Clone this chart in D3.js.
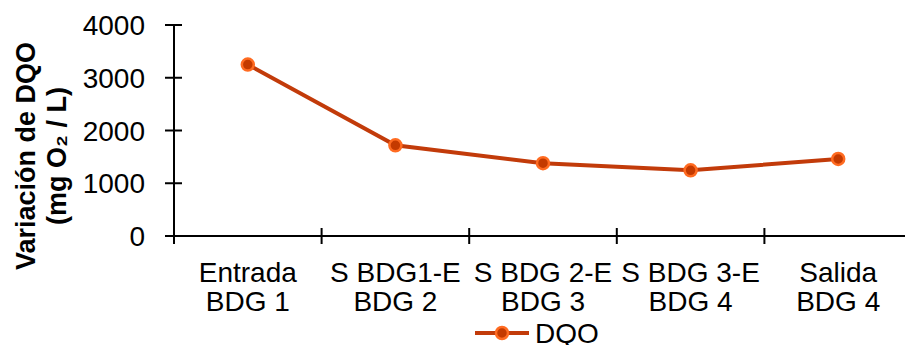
<!DOCTYPE html>
<html>
<head>
<meta charset="utf-8">
<script src="https://cdn.jsdelivr.net/npm/d3@7"></script>
<style>
  body { margin: 0; background: #fff; }
  text { font-family: "Liberation Sans", Arial, sans-serif; fill: #000; }
</style>
</head>
<body>
<div id="root"></div>
<script>
"use strict";

// data
var categories = [
    ["Entrada", "BDG 1"],
    ["S BDG1-E", "BDG 2"],
    ["S BDG 2-E", "BDG 3"],
    ["S BDG 3-E", "BDG 4"],
    ["Salida", "BDG 4"]
];
var dqo = [3250, 1720, 1380, 1245, 1460];
var yTicks = [0, 1000, 2000, 3000, 4000];
var seriesName = "DQO";

var width = 905, height = 345;
var lineColor = "#c23b0a", markerFill = "#c43a00", markerStroke = "#ff6b21";

var svg = d3.select("#root").append("svg")
    .attr("width", width)
    .attr("height", height);

var x = d3.scaleBand()
    .domain(d3.range(categories.length))
    .range([174, 912]);

var y = d3.scaleLinear()
    .domain([0, 4000])
    .range([236, 25]);

// y axis
var gy = svg.append("g").attr("transform", "translate(174,0)");
gy.append("line")
    .attr("y1", y(4000)).attr("y2", y(0))
    .attr("stroke", "#000").attr("stroke-width", 2);
gy.selectAll(".ytick")
    .data(yTicks)
    .enter()
    .append("line")
    .attr("x1", -9).attr("x2", 8)
    .attr("y1", d => y(d)).attr("y2", d => y(d))
    .attr("stroke", "#000").attr("stroke-width", 2);
gy.selectAll(".ylab")
    .data(yTicks)
    .enter()
    .append("text")
    .attr("x", -29)
    .attr("y", d => y(d))
    .attr("dy", "0.36em")
    .attr("text-anchor", "end")
    .style("font-size", "28px")
    .text(d => d);

// x axis
var gx = svg.append("g").attr("transform", "translate(0," + y(0) + ")");
gx.append("line")
    .attr("x1", 174).attr("x2", width)
    .attr("stroke", "#000").attr("stroke-width", 2);
gx.selectAll(".xtick")
    .data(d3.range(categories.length))
    .enter()
    .append("line")
    .attr("x1", d => x(d)).attr("x2", d => x(d))
    .attr("y1", -8).attr("y2", 8)
    .attr("stroke", "#000").attr("stroke-width", 2);

var xl = gx.selectAll(".xlab")
    .data(categories)
    .enter()
    .append("text")
    .attr("text-anchor", "middle")
    .style("font-size", "28px")
    .attr("transform", (d, i) => "translate(" + (x(i) + x.bandwidth() / 2) + ",0)");
xl.append("tspan").attr("x", 0).attr("y", 46).text(d => d[0]);
xl.append("tspan").attr("x", 0).attr("y", 75).text(d => d[1]);

// y axis title
var yt = svg.append("text")
    .attr("transform", "translate(0,156) rotate(-90)")
    .attr("text-anchor", "middle")
    .style("font-size", "27px")
    .style("font-weight", "bold");
yt.append("tspan").attr("x", 0).attr("y", 35).text("Variación de DQO");
yt.append("tspan").attr("x", 0).attr("y", 66).text("(mg O₂ / L)");

// series
var line = d3.line()
    .x((d, i) => x(i) + x.bandwidth() / 2)
    .y(d => y(d));

svg.append("path")
    .datum(dqo)
    .attr("d", line)
    .attr("fill", "none")
    .attr("stroke", lineColor)
    .attr("stroke-width", 4);

svg.selectAll(".pt")
    .data(dqo)
    .enter()
    .append("circle")
    .attr("cx", (d, i) => x(i) + x.bandwidth() / 2)
    .attr("cy", d => y(d))
    .attr("r", 6)
    .attr("fill", markerFill)
    .attr("stroke", markerStroke)
    .attr("stroke-width", 2.5);

// legend
var lg = svg.append("g").attr("transform", "translate(475,333)");
lg.append("line")
    .attr("x1", 0).attr("x2", 54)
    .attr("stroke", lineColor).attr("stroke-width", 4);
lg.append("circle")
    .attr("cx", 27).attr("r", 6)
    .attr("fill", markerFill)
    .attr("stroke", markerStroke)
    .attr("stroke-width", 2.5);
lg.append("text")
    .attr("x", 60)
    .attr("y", 10)
    .style("font-size", "28px")
    .text(seriesName);
</script>
</body>
</html>
